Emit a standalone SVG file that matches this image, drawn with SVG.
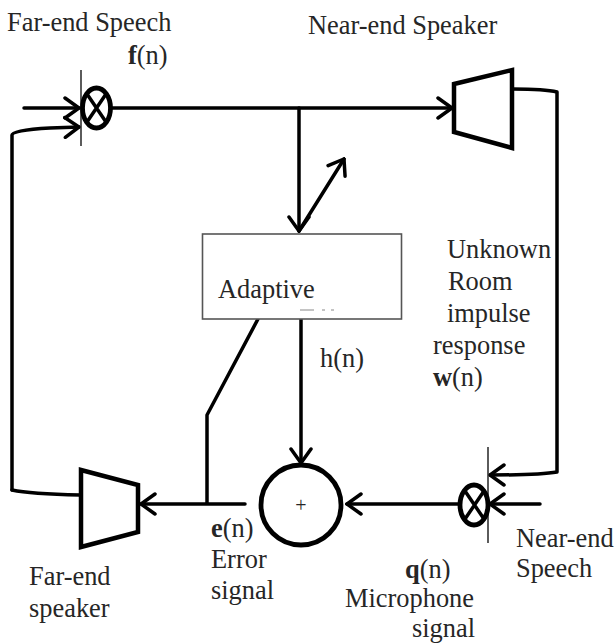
<svg xmlns="http://www.w3.org/2000/svg" width="616" height="643" viewBox="0 0 616 643">
<defs>
<style>
text{font-family:"Liberation Serif","Times New Roman",serif;font-size:26.4px;fill:#262626}
.b{font-weight:bold}
.t{fill:none;stroke:#000;stroke-width:3.500;stroke-linecap:round;stroke-linejoin:round}
.h{fill:none;stroke:#000;stroke-width:3.500;stroke-linecap:round;stroke-linejoin:miter}
.s{fill:#fff;stroke:#000;stroke-width:4.500;stroke-linejoin:miter}
.v{stroke:#333;stroke-width:1.600;fill:none}
.m{fill:#fff;stroke:#000;stroke-width:4.800}
.x{stroke:#000;stroke-width:3.500;fill:none}
</style>
<marker id="ah" viewBox="-16 -12 18 24" refX="0" refY="0" markerWidth="18" markerHeight="24" markerUnits="userSpaceOnUse" orient="auto">
<path d="M-14,-10 L0,0 L-14,10" class="h"/>
</marker>
</defs>
<rect width="616" height="643" fill="#fff"/>
<g id="connectors">
<path class="t" d="M24,108 H79" marker-end="url(#ah)"/>
<path class="t" d="M12,490 V135 Q12,130 50,128 L79,127" marker-end="url(#ah)"/>
<path class="t" d="M110,108 H452" marker-end="url(#ah)"/>
<path class="t" d="M299,108 V231" marker-end="url(#ah)"/>
<path class="t" d="M299,231 L344,159" marker-end="url(#ah)"/>
<path class="t" d="M513,89 Q545,89 557,92 V472 Q540,475 490,475" marker-end="url(#ah)"/>
<path class="t" d="M540,504 H490" marker-end="url(#ah)"/>
<path class="t" d="M460,504 H347" marker-end="url(#ah)"/>
<path class="t" d="M301,318 V463" marker-end="url(#ah)"/>
<path class="t" d="M245,504 H141" marker-end="url(#ah)"/>
<path class="t" d="M207,503 V415 L258,319"/>
<path class="t" d="M80,495 Q30,494 12,490"/>
</g>
<g id="far-end-mixer">
<line class="v" x1="81" y1="70" x2="81" y2="146"/>
<ellipse class="m" cx="96.500" cy="108" rx="14" ry="20"/>
<path class="x" d="M87,94 L106,122 M106,94 L87,122"/>
</g>
<g id="near-end-speaker">
<path class="s" d="M454,84 L512,70 V148 L454,132 Z"/>
</g>
<g id="adaptive-filter">
<rect x="202.500" y="234" width="199" height="85" fill="#fff" stroke="#555" stroke-width="1.600"/>
<path d="M300,310 H314 M322,310 H325 M331,310 H334" stroke="#888" stroke-width="1"/>
<text x="218" y="298">Adaptive</text>
</g>
<g id="summer">
<circle class="m" cx="301" cy="505" r="40"/>
<text x="301" y="512" text-anchor="middle" style="font-size:20px">+</text>
</g>
<g id="near-end-mixer">
<line class="v" x1="488" y1="447" x2="488" y2="543"/>
<ellipse class="m" cx="474" cy="505" rx="14" ry="20"/>
<path class="x" d="M465,491 L484,519 M484,491 L465,519"/>
</g>
<g id="far-end-speaker">
<path class="s" d="M81,470 L138,485 V532 L81,547 Z"/>
</g>
<g id="labels">
<text x="7" y="31">Far-end Speech</text>
<text x="128" y="64"><tspan class="b">f</tspan>(n)</text>
<text x="308" y="34">Near-end Speaker</text>
<text x="447" y="258">Unknown</text>
<text x="448" y="290">Room</text>
<text x="447" y="322">impulse</text>
<text x="433" y="354">response</text>
<text x="433" y="386"><tspan class="b">w</tspan>(n)</text>
<text x="320" y="367">h(n)</text>
<text x="211" y="537"><tspan class="b">e</tspan>(n)</text>
<text x="211" y="568">Error</text>
<text x="211" y="599">signal</text>
<text x="29" y="585">Far-end</text>
<text x="29" y="617">speaker</text>
<text x="405" y="578"><tspan class="b">q</tspan>(n)</text>
<text x="345" y="607">Microphone</text>
<text x="412" y="637">signal</text>
<text x="516" y="547">Near-end</text>
<text x="516" y="577">Speech</text>
</g>
</svg>
